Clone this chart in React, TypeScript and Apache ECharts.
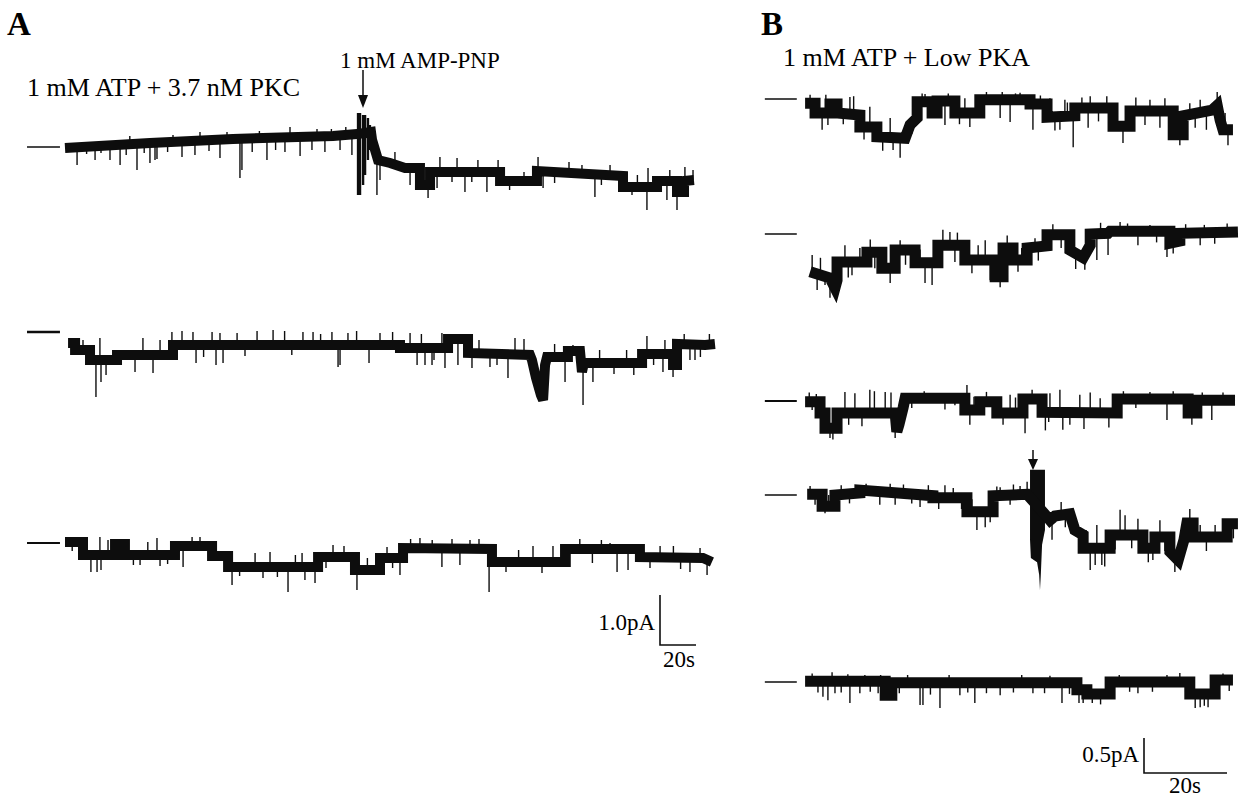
import { useEffect, useRef } from "react";
import * as echarts from "echarts";

type Pt = [number, number];
type Sp = [number, number, number];

// ---------- Panel A (time in s, current in pA, 0 = closed level) ----------
const aDash: Pt[] = [[-21.1, 0], [-2.8, 0]];
const bDash: Pt[] = [[-10.4, 0], [-2.7, 0]];

const a1Level: Pt[] = [
  [0, -0.02], [47.2, 0.08], [93.3, 0.16], [148.9, 0.22], [162.2, 0.26], [162.8, 0.26],
  [170, 0.3], [170.6, 0.14], [173.9, -0.26], [180.6, -0.32], [188.9, -0.42], [197.2, -0.42],
  [197.2, -0.76], [202.8, -0.76], [202.8, -0.5], [241.7, -0.5], [241.7, -0.68], [262.2, -0.68],
  [262.2, -0.48], [310, -0.58], [310, -0.8], [328.9, -0.8], [328.9, -0.68], [340, -0.68],
  [340, -0.9], [343.9, -0.9], [343.9, -0.68], [349.4, -0.66],
];
const a1Spikes: Sp[] = [
  [6.7, 0, -0.36], [12, 0.01, -0.14], [16.7, 0.02, -0.26], [20, 0.03, -0.12], [25, 0.04, -0.26],
  [30.6, 0.05, -0.36], [34, 0.06, -0.16], [36, 0.06, 0.22], [40, 0.07, -0.46], [44, 0.07, -0.12],
  [47.2, 0.08, -0.32], [50, 0.08, -0.26], [51.1, 0.08, -0.24], [57, 0.1, -0.1], [60, 0.1, 0.24],
  [65, 0.11, -0.2], [72.2, 0.13, -0.16], [75, 0.14, 0.3], [80, 0.14, -0.08], [86.1, 0.15, -0.22],
  [90, 0.16, 0.3], [97.2, 0.17, -0.62], [98.3, 0.17, -0.46], [104, 0.18, -0.1], [108, 0.18, 0.32],
  [112.2, 0.19, -0.26], [117, 0.19, -0.06], [122.2, 0.2, -0.1], [125, 0.2, 0.4], [130.6, 0.2, -0.18],
  [137.2, 0.21, -0.06], [140, 0.21, 0.36], [144.4, 0.22, -0.1], [148, 0.22, 0.36], [152.8, 0.23, -0.06],
  [156, 0.24, 0.4], [159.4, 0.25, -0.16],
  [173.3, -0.26, -0.96], [175, -0.3, -0.66], [183.3, -0.35, -0.1], [191.7, -0.42, -0.76],
  [201.7, -0.76, -1.02], [206.7, -0.5, -0.82], [208.3, -0.5, -0.2], [215, -0.5, -0.7], [217.8, -0.5, -0.22],
  [222.2, -0.5, -0.9], [226, -0.5, -0.7], [229.4, -0.5, -0.26], [234.4, -0.5, -0.9], [240.6, -0.5, -0.26],
  [247, -0.68, -0.86], [255, -0.68, -0.5], [262.8, -0.5, -0.2], [265.6, -0.5, -0.82], [272, -0.5, -0.72],
  [280, -0.52, -0.3], [287.2, -0.56, -0.36], [294.4, -0.56, -1.0], [298, -0.56, -0.76], [302.8, -0.57, -0.36],
  [315, -0.8, -0.96], [318, -0.8, -0.56], [323.3, -0.8, -1.26], [323.9, -0.8, -0.42], [334.4, -0.68, -1.06],
  [336, -0.68, -0.46], [340, -0.9, -1.26], [344.4, -0.68, -0.4], [348.9, -0.66, -0.46],
];
const a1Artifact: Sp[] = [
  [162.8, 0.68, -0.96], [163.9, 0.68, -0.96], [165.6, 0.64, -0.76], [166.7, 0.64, -0.56],
  [168.3, 0.58, -0.26], [169.4, 0.44, -0.06],
];

const a2Level: Pt[] = [
  [1.7, -0.22], [5.6, -0.22], [5.6, -0.36], [13.9, -0.36], [13.9, -0.56], [28.9, -0.56],
  [28.9, -0.46], [60, -0.46], [60, -0.26], [186.1, -0.26], [186.1, -0.32], [212.8, -0.32],
  [212.8, -0.14], [223.9, -0.14], [223.9, -0.42], [258.3, -0.46], [259.4, -0.56], [261.7, -0.92],
  [264.4, -1.26], [265.6, -1.36], [266.7, -0.66], [267.8, -0.5], [279.4, -0.5], [279.4, -0.38],
  [286.1, -0.38], [287.2, -0.8], [288.3, -0.62], [320.6, -0.62], [320.6, -0.44], [337.8, -0.44],
  [337.8, -0.66], [340, -0.66], [340, -0.24], [355.6, -0.26], [361.1, -0.24],
];
const a2Spikes: Sp[] = [
  [10, -0.36, -0.16], [17.2, -0.56, -1.3], [19.4, -0.56, -0.12], [20, -0.56, -1.0], [22.8, -0.56, -0.86],
  [38.9, -0.46, -0.8], [43.3, -0.46, -0.12], [48.9, -0.46, -0.82], [52.8, -0.46, -0.16], [59.4, -0.46, 0],
  [65, -0.26, 0.02], [71.1, -0.26, 0], [72.8, -0.26, -0.62], [77, -0.26, -0.5], [81.7, -0.26, 0],
  [83.9, -0.26, -0.66], [86.1, -0.26, -0.02], [87.8, -0.26, -0.62], [95.6, -0.26, -0.02], [100, -0.26, -0.48],
  [106.7, -0.26, 0.02], [115.6, -0.26, 0.04], [122, -0.26, 0.02], [126, -0.26, -0.46], [132.2, -0.26, 0],
  [137.8, -0.26, 0], [142, -0.26, -0.04], [148.3, -0.26, 0], [151.7, -0.26, -0.7], [152.8, -0.26, -0.66],
  [157.2, -0.26, -0.02], [162, -0.26, 0.02], [168.9, -0.26, -0.62], [175, -0.26, -0.02], [182, -0.26, 0],
  [191.7, -0.3, -0.02], [195.6, -0.3, -0.66], [198, -0.32, -0.04], [200, -0.32, -0.66], [203.9, -0.32, -0.66],
  [205, -0.32, -0.56], [209.4, -0.32, -0.02], [211.1, -0.32, -0.72], [218.3, -0.14, -0.66],
  [226.1, -0.42, -0.72], [230, -0.42, -0.16], [236.1, -0.42, -0.7], [240, -0.42, -0.66], [246.1, -0.44, -0.92],
  [250, -0.44, -0.12], [255, -0.44, -0.14], [267.8, -0.5, -0.9], [272, -0.5, -0.24], [277.8, -0.5, -1.0],
  [282.2, -0.38, -0.26], [287.8, -0.62, -1.46], [293.3, -0.62, -1.0], [297, -0.62, -0.36], [305, -0.62, -0.84],
  [312, -0.62, -0.36], [316, -0.62, -0.86], [323.3, -0.44, -0.08], [327, -0.44, -0.66], [332.2, -0.44, -0.8],
  [333.3, -0.44, -0.16], [337.8, -0.44, -0.9], [344, -0.24, -0.04], [347.2, -0.24, -0.56], [350, -0.24, -0.56],
  [353, -0.26, -0.5], [358, -0.24, -0.04],
];

const a3Level: Pt[] = [
  [0, 0.02], [10, 0.02], [10, -0.24], [27.8, -0.24], [27.8, -0.02], [33.3, -0.02], [33.3, -0.24],
  [61.1, -0.24], [61.1, -0.06], [81.7, -0.06], [81.7, -0.26], [90.6, -0.26], [90.6, -0.48],
  [140.6, -0.48], [140.6, -0.28], [161.1, -0.28], [161.1, -0.54], [175, -0.54], [175, -0.3],
  [187.8, -0.3], [187.8, -0.1], [237.2, -0.12], [237.2, -0.38], [277.8, -0.38], [277.8, -0.12],
  [319.4, -0.12], [319.4, -0.28], [354.4, -0.3], [359.4, -0.38],
];
const a3Spikes: Sp[] = [
  [4, 0.02, -0.16], [8.3, 0.02, -0.34], [14.4, -0.24, -0.58], [17.8, -0.24, -0.58], [19.4, -0.24, 0.12],
  [20, -0.24, -0.54], [23.9, -0.24, 0.06], [30, -0.02, -0.3], [38, -0.24, -0.44], [41.7, -0.24, -0.44],
  [46, -0.24, 0.02], [51.1, -0.24, 0.1], [52.8, -0.24, -0.46], [57, -0.24, -0.42], [65.6, -0.06, -0.48],
  [70.6, -0.06, 0.12], [75, -0.06, 0.12], [92.8, -0.48, -0.84], [97, -0.48, -0.66], [105.6, -0.48, -0.2],
  [110, -0.48, -0.7], [113.9, -0.48, -0.18], [118, -0.48, -0.68], [123.9, -0.48, -0.98], [128, -0.48, -0.24],
  [131.7, -0.48, -0.2], [133.3, -0.48, -0.74], [138.9, -0.48, -0.8], [145, -0.28, -0.5], [148.9, -0.28, -0.04],
  [155, -0.28, -0.06], [162.2, -0.54, -0.94], [168, -0.54, -0.3], [178.9, -0.3, -0.08], [182, -0.3, -0.5],
  [186.1, -0.3, -0.64], [192, -0.1, 0.08], [197.2, -0.1, 0.1], [204, -0.12, 0.06], [209.4, -0.12, -0.48],
  [215, -0.12, 0.08], [219.4, -0.12, -0.44], [225, -0.12, 0.06], [230, -0.12, 0.08], [235.6, -0.12, -0.98],
  [245, -0.38, -0.58], [252, -0.38, -0.14], [260, -0.38, -0.06], [265, -0.38, -0.6], [271.1, -0.38, -0.06],
  [280.6, -0.12, -0.48], [286, -0.12, 0.08], [293, -0.12, -0.4], [298, -0.12, 0.06], [302.8, -0.12, 0],
  [306.7, -0.12, -0.58], [312.8, -0.12, -0.54], [325, -0.28, -0.5], [330.6, -0.28, -0.06], [338, -0.28, -0.06],
  [342, -0.28, -0.52], [347.2, -0.28, -0.58], [352.8, -0.3, -0.1], [356.7, -0.3, -0.64],
];

// ---------- Panel B ----------
const b1Level: Pt[] = [
  [-0.7, -0.06], [1.7, -0.06], [1.7, -0.2], [5.3, -0.2], [5.3, -0.07], [7, -0.07], [7, -0.2],
  [12.5, -0.23], [12.5, -0.4], [16.6, -0.4], [16.6, -0.54], [23.4, -0.56], [24.6, -0.37], [26.3, -0.27],
  [26.3, -0.04], [29.9, -0.04], [29.9, -0.2], [31.1, -0.2], [31.1, -0.03], [35.4, -0.03], [35.4, -0.2],
  [41.4, -0.2], [41.4, -0.01], [53.5, -0.01], [53.5, -0.07], [57.6, -0.07], [57.6, -0.26], [64.3, -0.24],
  [64.3, -0.13], [73.5, -0.13], [73.5, -0.39], [77.6, -0.39], [77.6, -0.17], [88, -0.17], [88, -0.51],
  [90.4, -0.51], [90.4, -0.24], [97.3, -0.16], [98.6, -0.09], [99.3, -0.3], [100, -0.44], [102.4, -0.44],
];
const b1Spikes: Sp[] = [
  [0.5, -0.06, 0.06], [3.4, -0.2, -0.44], [4.3, -0.2, 0.06], [4.8, -0.2, -0.37], [8.5, -0.2, -0.36],
  [10.1, -0.2, 0.03], [11, -0.2, 0.04], [13.5, -0.4, -0.58], [14.9, -0.4, -0.11], [18, -0.54, -0.74],
  [19.8, -0.54, -0.27], [20.5, -0.56, -0.73], [22.2, -0.56, -0.84], [25, -0.3, -0.5], [27.5, -0.04, 0.08],
  [28.2, -0.04, 0.07], [33, -0.03, -0.37], [33.8, -0.03, 0.08], [36.5, -0.2, -0.36], [37.8, -0.2, 0.01],
  [39, -0.2, -0.4], [43, -0.01, 0.1], [46.3, -0.01, -0.27], [46.8, -0.01, 0.1], [48.7, -0.01, -0.33],
  [50, -0.01, 0.08], [51.1, -0.01, 0.09], [54.2, -0.07, -0.44], [56, -0.07, 0.05], [58.3, -0.26, 0.01],
  [59.5, -0.26, -0.45], [60.7, -0.26, -0.44], [61.9, -0.26, -0.01], [62.5, -0.26, -0.05], [63.9, -0.24, -0.69],
  [66, -0.13, 0.02], [67.5, -0.13, -0.41], [68, -0.13, 0.04], [70, -0.13, -0.32], [72, -0.13, 0.04],
  [75.9, -0.39, -0.63], [79, -0.17, 0.02], [81.2, -0.17, -0.37], [82.4, -0.17, -0.01], [84.8, -0.17, -0.41],
  [86, -0.17, 0.01], [89.6, -0.51, -0.66], [92, -0.24, -0.06], [93.3, -0.24, -0.41], [94.5, -0.24, -0.01],
  [96, -0.24, -0.44], [98.6, -0.09, 0.1], [100.5, -0.44, -0.2], [101.2, -0.44, -0.66],
];

const b2Level: Pt[] = [
  [0.5, -0.54], [5.3, -0.63], [6.5, -0.77], [7, -0.66], [7, -0.4], [14.2, -0.4], [14.2, -0.26],
  [17.8, -0.26], [17.8, -0.49], [21, -0.49], [21, -0.23], [25.8, -0.23], [25.8, -0.41], [31.3, -0.41],
  [31.3, -0.16], [37.8, -0.16], [37.8, -0.37], [45.1, -0.37], [45.1, -0.61], [47, -0.61], [47, -0.2],
  [49.4, -0.2], [49.4, -0.37], [52.8, -0.37], [52.8, -0.2], [57.6, -0.17], [57.6, -0.01], [63.1, -0.01],
  [63.1, -0.23], [66.3, -0.34], [68, -0.16], [68, 0], [72.3, 0.01], [72.8, 0.04], [87.2, 0.04],
  [87.2, -0.13], [89.6, -0.1], [89.6, 0.01], [103.6, 0.03],
];
const b2Spikes: Sp[] = [
  [1, -0.56, -0.3], [2.2, -0.56, -0.8], [3, -0.56, -0.34], [4.1, -0.6, -0.73], [5.3, -0.63, -0.91],
  [8.9, -0.4, -0.16], [9.7, -0.4, -0.62], [10.6, -0.4, -0.59], [12.5, -0.4, -0.2], [15, -0.26, -0.08],
  [16.1, -0.26, -0.49], [18.5, -0.49, -0.3], [19.8, -0.49, -0.7], [22.2, -0.23, -0.09], [23.5, -0.23, -0.44],
  [27, -0.41, -0.22], [28.2, -0.41, -0.7], [29.9, -0.41, -0.73], [30.5, -0.41, -0.2], [32.5, -0.16, 0.06],
  [34.2, -0.16, 0.03], [35.4, -0.16, -0.4], [36, -0.16, 0.02], [39.5, -0.37, -0.56], [41, -0.37, -0.16],
  [42.7, -0.37, -0.09], [43.9, -0.37, -0.66], [46.3, -0.61, -0.76], [48, -0.2, -0.02], [50.6, -0.37, -0.54],
  [51.5, -0.37, -0.2], [54.7, -0.2, -0.06], [55.5, -0.2, -0.38], [59, -0.01, 0.14], [61, -0.01, -0.2],
  [64.5, -0.3, -0.5], [66.7, -0.34, -0.51], [69.6, 0, -0.37], [70.5, 0, 0.16], [72.3, 0.01, -0.3],
  [75.2, 0.04, 0.17], [77, 0.04, 0.15], [79.5, 0.04, -0.16], [82.4, 0.04, 0.13], [84, 0.04, -0.12],
  [86.5, 0.04, -0.33], [88, -0.12, -0.28], [91, 0.01, 0.14], [94.5, 0.01, -0.16], [95.5, 0.01, 0.13],
  [98, 0.02, -0.14], [101, 0.03, 0.15],
];

const b3Level: Pt[] = [
  [-0.7, -0.01], [2.9, -0.01], [2.9, -0.17], [4.1, -0.17], [4.1, -0.39], [7, -0.39], [7, -0.17],
  [21, -0.17], [21.4, -0.44], [21.9, -0.34], [22.9, -0.1], [23.4, 0.04], [37.8, 0.04], [37.8, -0.13],
  [41.4, -0.13], [41.4, -0.01], [45.5, -0.01], [45.5, -0.17], [51.8, -0.17], [51.8, 0.03], [56.4, 0.03],
  [56.4, -0.16], [74.5, -0.17], [74.5, 0.03], [91.6, 0.03], [91.6, -0.17], [93.7, -0.17], [93.7, 0.01],
  [102.9, 0.01],
];
const b3Spikes: Sp[] = [
  [0.3, -0.01, 0.12], [1, -0.01, -0.13], [2, -0.01, 0.1], [5.3, -0.39, -0.53], [6, -0.39, -0.55],
  [8.9, -0.17, 0.13], [9.8, -0.17, -0.34], [11.3, -0.17, 0.11], [13, -0.17, -0.36], [14.9, -0.17, 0.16],
  [16, -0.17, 0.14], [18.6, -0.17, 0.13], [20, -0.17, 0.12], [21, -0.17, -0.53], [25, 0.04, -0.1],
  [28, 0.04, 0.14], [30.6, 0.04, 0.11], [33, 0.04, -0.12], [35.4, 0.04, -0.06], [38.3, -0.13, 0.23],
  [39, -0.13, -0.34], [40, -0.13, 0.06], [43, -0.01, 0.13], [47, -0.17, -0.34], [48.7, -0.17, 0.09],
  [50, -0.17, 0.05], [52.3, -0.17, -0.46], [54, 0.03, 0.16], [57.2, -0.16, -0.42], [58, -0.16, -0.3],
  [58.3, -0.16, 0.11], [60.7, -0.16, 0.16], [61.4, -0.16, -0.41], [63.1, -0.16, -0.34], [65.5, -0.16, 0.09],
  [66.5, -0.16, -0.4], [68, -0.16, 0.12], [70.4, -0.17, 0.04], [72.5, -0.17, -0.38], [76, 0.03, 0.14],
  [79, 0.03, -0.1], [82.4, 0.03, 0.13], [86.5, 0.03, -0.27], [88, 0.03, 0.14], [92.5, -0.17, -0.34],
  [95, 0.01, 0.12], [97.3, 0.01, -0.27], [100, 0.01, 0.12],
];

const b4Level: Pt[] = [
  [-0.2, 0.01], [3.4, 0.01], [3.4, -0.16], [6.5, -0.16], [6.5, 0], [12.5, 0.03], [12.5, 0.07],
  [30.1, -0.01], [30.1, -0.04], [38.3, -0.04], [38.3, -0.24], [44.6, -0.24], [44.6, -0.01], [52.8, 0.01],
  [57.3, -0.29], [58.3, -0.36], [59.5, -0.3], [63.1, -0.27], [64.3, -0.5], [66.3, -0.57], [66.3, -0.76],
  [72.8, -0.76], [72.8, -0.57], [80.7, -0.57], [80.7, -0.76], [83.6, -0.76], [83.6, -0.6], [87.2, -0.6],
  [87.2, -0.81], [89.2, -0.93], [90.6, -0.64], [91.3, -0.4], [92.8, -0.4], [92.8, -0.6], [101, -0.6],
  [101, -0.41], [103.6, -0.41],
];
const b4Spikes: Sp[] = [
  [0.5, 0.01, 0.13], [1.7, 0.01, -0.14], [4.1, -0.16, -0.26], [5, -0.16, 0], [8, 0, 0.14], [10, 0, -0.12],
  [14, 0.05, 0.16], [17.3, 0.05, -0.14], [19.8, 0.05, 0.16], [21, 0.04, -0.14], [23, 0.04, 0.15],
  [25, 0.04, -0.12], [27, 0.02, -0.17], [29, 0.02, 0.14], [31.5, -0.04, -0.2], [33, -0.04, 0.14],
  [35, -0.04, 0.1], [37, -0.04, -0.2], [39.5, -0.24, -0.06], [40.7, -0.24, -0.5], [42.7, -0.24, -0.46],
  [43.9, -0.24, -0.39], [45.5, -0.01, 0.12], [46.3, 0, 0.11], [48.7, -0.01, -0.14], [49.5, 0, 0.15],
  [51.1, 0, 0.13], [52.8, 0.01, 0.19], [58.8, -0.3, -0.64], [61, -0.28, -0.1], [62, -0.28, -0.46],
  [67, -0.76, -0.5], [68, -0.76, -1.07], [69.2, -0.76, -1.0], [69.6, -0.76, -0.43], [70.8, -0.76, -1.0],
  [71.5, -0.76, -1.02], [74, -0.57, -0.78], [75.2, -0.57, -0.21], [76.4, -0.57, -0.29], [78, -0.57, -0.76],
  [79.5, -0.57, -0.34], [82, -0.76, -0.96], [83.1, -0.76, -0.93], [84.8, -0.6, -0.36], [86, -0.6, -0.8],
  [88.4, -0.81, -1.1], [92, -0.4, -0.2], [94.5, -0.6, -0.43], [96, -0.6, -0.8], [98.1, -0.6, -0.43],
  [100, -0.6, -0.4], [102.5, -0.41, -0.62],
];
const b4Artifact: Pt[] = [
  [53.5, 0.36], [57.1, 0.36], [57.1, -0.5], [56.4, -0.71], [56.1, -1.14], [55.9, -1.36],
  [55.7, -1.14], [55.2, -0.96], [53.7, -0.9], [53.5, -0.64],
];

const b5Level: Pt[] = [
  [-0.7, 0.01], [18.6, 0.01], [18.6, -0.19], [20.2, -0.19], [20.2, -0.01], [64.8, -0.01], [64.8, -0.11],
  [67.2, -0.11], [67.2, -0.17], [72.8, -0.17], [72.8, 0], [92, 0], [92, -0.17], [98.1, -0.17],
  [98.1, 0.03], [102.4, 0.03],
];
const b5Spikes: Sp[] = [
  [1, 0.01, 0.12], [2.4, 0.01, -0.15], [3.6, 0.01, -0.21], [4.8, 0.01, -0.26], [5.8, 0.01, 0.14],
  [6.5, 0.01, -0.16], [8, 0.01, -0.15], [9.6, 0.01, 0.11], [10.1, 0.01, -0.3], [12.5, 0.01, -0.16],
  [13.7, 0.01, 0.1], [15, 0.01, -0.14], [16.9, 0.01, -0.16], [17.5, 0.01, 0.1], [22, -0.01, -0.16],
  [24, -0.01, 0.1], [27, -0.01, -0.33], [27.7, -0.01, -0.33], [29.5, -0.01, -0.18], [31.8, -0.01, -0.37],
  [34, -0.01, 0.1], [36.6, -0.01, -0.19], [38.5, -0.01, -0.15], [40.2, -0.01, -0.3], [43, -0.01, -0.16],
  [46.3, -0.01, -0.19], [49.5, -0.01, -0.15], [51.5, -0.01, 0.1], [54.2, -0.01, -0.16], [57, -0.01, -0.16],
  [58.3, -0.01, 0.09], [61.2, -0.01, -0.3], [63, -0.01, -0.17], [65.3, -0.11, -0.3], [66.3, -0.11, -0.3],
  [68.5, -0.17, -0.3], [70.5, -0.17, -0.32], [75, 0, 0.1], [77.5, 0, -0.14], [79.5, 0, -0.16],
  [83, 0, -0.14], [86.5, 0, 0.1], [89.6, 0, 0.13], [91, 0, -0.14], [93.3, -0.17, -0.37],
  [94.5, -0.17, -0.36], [95.5, -0.17, -0.34], [96.4, -0.17, -0.36], [100, 0.03, 0.12], [101.5, 0.03, -0.13],
];

// ---------- Scale bars ----------
const aScaleBar: Pt[] = [[0, 1], [0, 0], [20, 0]];
const bScaleBar: Pt[] = [[0, 0.5], [0, 0], [20, 0]];
const aScaleLabels = ["1.0pA", "20s"];
const bScaleLabels = ["0.5pA", "20s"];

const panelTitles = ["A", "B"];
const conditionLabels = ["1 mM ATP + 3.7 nM PKC", "1 mM AMP-PNP", "1 mM ATP + Low PKA"];

type Geo = { x0: number; pxS: number; pxPA: number; xMin: number; xMax: number; yMin: number; yMax: number; band: number; dash: Pt[] };
const GEO: Record<string, Geo> = {
  A: { x0: 65, pxS: 1.8, pxPA: 50, xMin: -22, xMax: 364, yMin: -1.4, yMax: 0.8, band: 10, dash: aDash },
  B: { x0: 808, pxS: 4.15, pxPA: 70, xMin: -11, xMax: 105, yMin: -1.4, yMax: 0.6, band: 11, dash: bDash },
};

type Trace = { panel: "A" | "B"; y0: number; level: Pt[]; spikes: Sp[]; bars?: Sp[]; poly?: Pt[]; dashW: number };
const TRACES: Trace[] = [
  { panel: "A", y0: 147, level: a1Level, spikes: a1Spikes, bars: a1Artifact, dashW: 1.3 },
  { panel: "A", y0: 332, level: a2Level, spikes: a2Spikes, dashW: 2.4 },
  { panel: "A", y0: 543, level: a3Level, spikes: a3Spikes, dashW: 2 },
  { panel: "B", y0: 99, level: b1Level, spikes: b1Spikes, dashW: 1.4 },
  { panel: "B", y0: 234, level: b2Level, spikes: b2Spikes, dashW: 1.6 },
  { panel: "B", y0: 401, level: b3Level, spikes: b3Spikes, dashW: 2 },
  { panel: "B", y0: 495, level: b4Level, spikes: b4Spikes, poly: b4Artifact, dashW: 1.3 },
  { panel: "B", y0: 682, level: b5Level, spikes: b5Spikes, dashW: 1.4 },
];

const INK = "#0d0d0d";
const SERIF = '"Liberation Serif", "DejaVu Serif", serif';

function vLineSeries(idx: number, data: Sp[], width: number): any {
  return {
    type: "custom",
    xAxisIndex: idx,
    yAxisIndex: idx,
    data,
    encode: { x: 0, y: [1, 2] },
    renderItem: (_p: any, api: any) => {
      const a = api.coord([api.value(0), api.value(1)]);
      const b = api.coord([api.value(0), api.value(2)]);
      return { type: "line", shape: { x1: a[0], y1: a[1], x2: b[0], y2: b[1] }, style: { stroke: INK, lineWidth: width } };
    },
  };
}

export default function App() {
  const ref = useRef<HTMLDivElement>(null);
  useEffect(() => {
    const chart = echarts.init(ref.current!, null, { renderer: "svg" });
    const grid: any[] = [];
    const xAxis: any[] = [];
    const yAxis: any[] = [];
    const series: any[] = [];

    TRACES.forEach((t, i) => {
      const g = GEO[t.panel];
      grid.push({
        left: g.x0 + g.xMin * g.pxS,
        width: (g.xMax - g.xMin) * g.pxS,
        top: t.y0 - g.yMax * g.pxPA,
        height: (g.yMax - g.yMin) * g.pxPA,
      });
      xAxis.push({ type: "value", gridIndex: i, min: g.xMin, max: g.xMax, show: false });
      yAxis.push({ type: "value", gridIndex: i, min: g.yMin, max: g.yMax, show: false });
      series.push({
        type: "line", xAxisIndex: i, yAxisIndex: i, data: g.dash, symbol: "none", silent: true,
        lineStyle: { color: INK, width: t.dashW },
      });
      series.push(vLineSeries(i, t.spikes, 1.4));
      series.push({
        type: "line", xAxisIndex: i, yAxisIndex: i, data: t.level, symbol: "none", silent: true,
        lineStyle: { color: INK, width: g.band, join: "miter", cap: "butt" },
      });
      if (t.bars) series.push(vLineSeries(i, t.bars, 2.4));
      if (t.poly) {
        const verts = t.poly;
        series.push({
          type: "custom", xAxisIndex: i, yAxisIndex: i, data: [verts[0]],
          renderItem: (_p: any, api: any) => ({
            type: "polygon",
            shape: { points: verts.map((v) => api.coord(v)) },
            style: { fill: INK },
          }),
        });
      }
    });

    // scale bars
    const bars = [
      { data: aScaleBar, left: 660, top: 595, width: 36, height: 50, ymax: 1 },
      { data: bScaleBar, left: 1144, top: 738, width: 83, height: 35, ymax: 0.5 },
    ];
    bars.forEach((b, k) => {
      const idx = TRACES.length + k;
      grid.push({ left: b.left, top: b.top, width: b.width, height: b.height });
      xAxis.push({ type: "value", gridIndex: idx, min: 0, max: 20, show: false });
      yAxis.push({ type: "value", gridIndex: idx, min: 0, max: b.ymax, show: false });
      series.push({
        type: "line", xAxisIndex: idx, yAxisIndex: idx, data: b.data, symbol: "none", clip: false,
        lineStyle: { color: INK, width: 1.6, join: "miter" },
      });
    });

    const txt = (text: string, x: number, y: number, size: number, align: string, bold = false) => ({
      type: "text",
      x,
      y,
      style: {
        text,
        font: `${bold ? "bold " : ""}${size}px ${SERIF}`,
        fill: "#000",
        align,
        verticalAlign: "middle",
        textAlign: align,
        textVerticalAlign: "middle",
      },
    });

    const graphic: any[] = [
      txt(panelTitles[0], 7, 24, 33, "left", true),
      txt(panelTitles[1], 761, 24, 33, "left", true),
      txt(conditionLabels[0], 27, 87, 26, "left"),
      txt(conditionLabels[1], 340, 60, 23, "left"),
      txt(conditionLabels[2], 783, 57, 26, "left"),
      txt(aScaleLabels[0], 655, 622, 23, "right"),
      txt(aScaleLabels[1], 679, 659, 23, "center"),
      txt(bScaleLabels[0], 1139, 754, 23, "right"),
      txt(bScaleLabels[1], 1185, 785, 23, "center"),
      { type: "line", shape: { x1: 363, y1: 70, x2: 363, y2: 98 }, style: { stroke: INK, lineWidth: 1.5 } },
      { type: "polygon", shape: { points: [[358, 95], [368, 95], [363, 108]] }, style: { fill: INK } },
      { type: "line", shape: { x1: 1033, y1: 450, x2: 1033, y2: 461 }, style: { stroke: INK, lineWidth: 1.5 } },
      { type: "polygon", shape: { points: [[1028, 459], [1038, 459], [1033, 470]] }, style: { fill: INK } },
    ];

    chart.setOption({
      animation: false,
      backgroundColor: "#fff",
      grid,
      xAxis,
      yAxis,
      series,
      graphic,
    });
    return () => chart.dispose();
  }, []);
  return (
    <div
      ref={ref}
      style={{ position: "fixed", left: 0, top: 0, width: 1247, height: 801, background: "#fff" }}
    />
  );
}
